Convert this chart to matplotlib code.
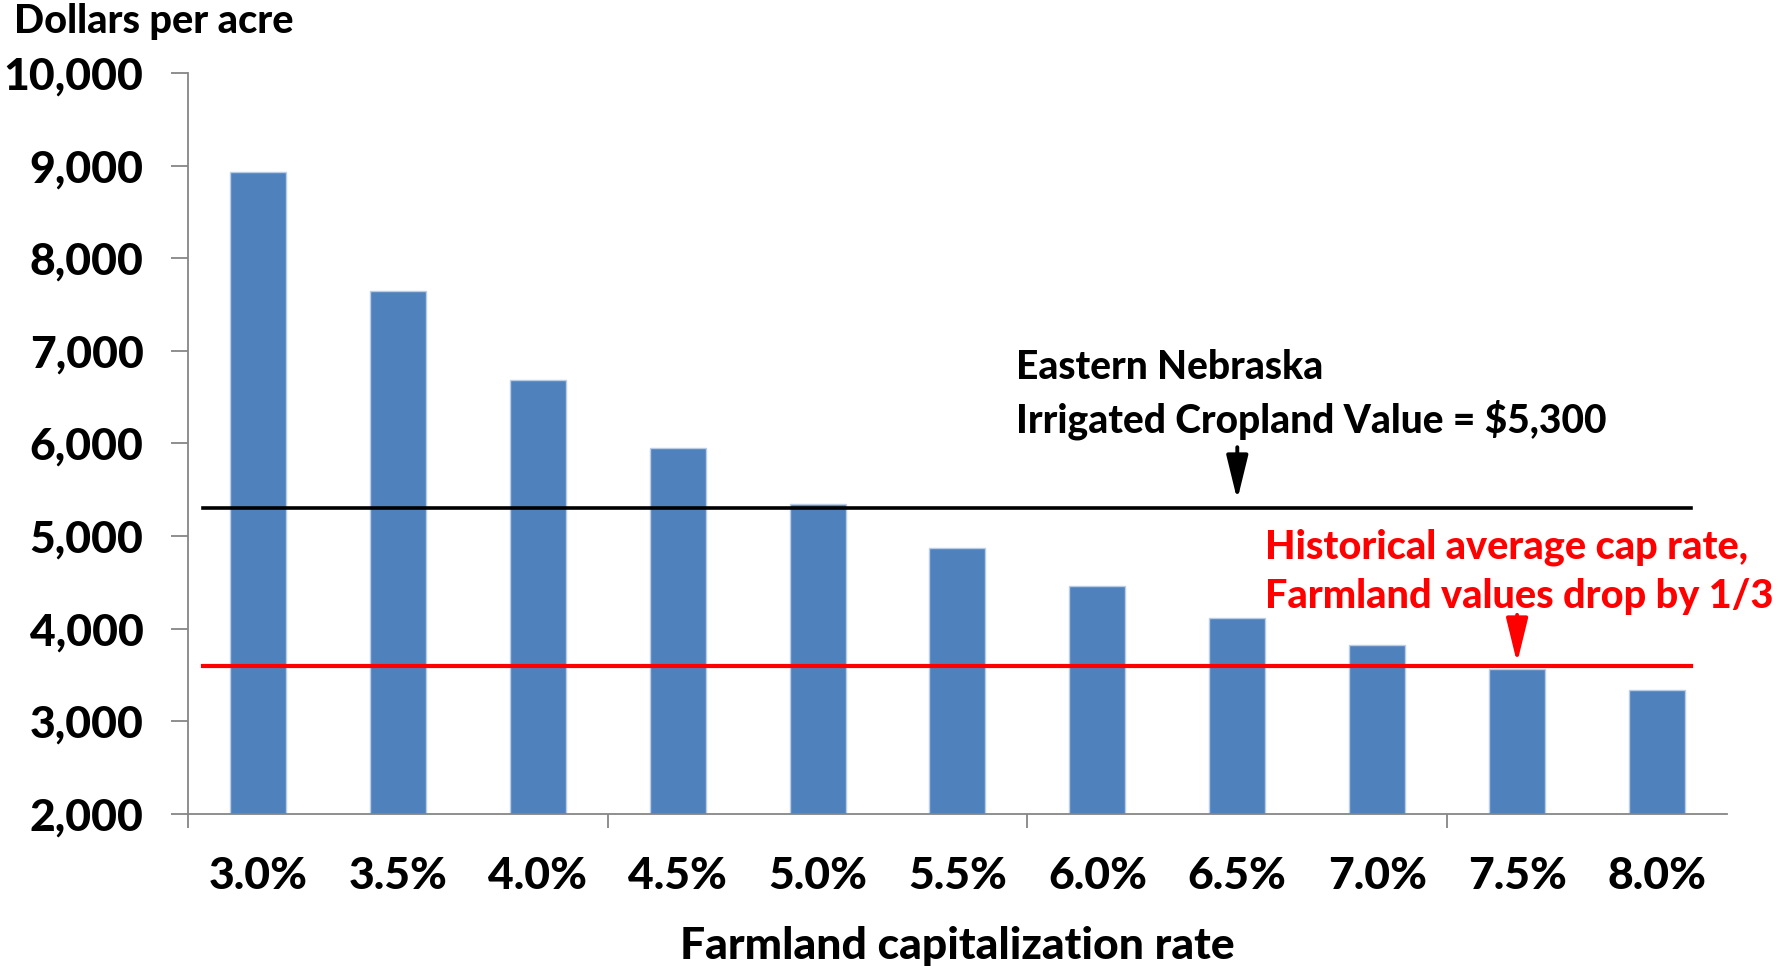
import matplotlib.pyplot as plt
import numpy as np

# Datos
tasas = ['3.0%', '3.5%', '4.0%', '4.5%', '5.0%', '5.5%', '6.0%', '6.5%', '7.0%', '7.5%', '8.0%']
valores = [8930, 7650, 6690, 5950, 5350, 4870, 4460, 4120, 3820, 3570, 3340]
valor_nebraska = 5300
valor_historico = 3600
y_ticks = [2000, 3000, 4000, 5000, 6000, 7000, 8000, 9000, 10000]

plt.rcParams['font.family'] = ['Lato', 'DejaVu Sans']
peso = 'black'

fig = plt.figure(figsize=(17.87, 9.66), dpi=100)
ax = fig.add_axes([0.1052, 0.1574, 0.8612, 0.767])

x = np.arange(len(tasas))
ax.bar(x, valores, width=0.4, color='#4F81BD', edgecolor='#b9cde5', linewidth=1, zorder=2)

ax.set_xlim(-0.5, len(tasas) - 0.5)
ax.set_ylim(2000, 10000)

# Lineas de referencia
ax.plot([-0.39, 10.24], [valor_nebraska] * 2, color='black', lw=2.6, zorder=3)
ax.plot([-0.39, 10.24], [valor_historico] * 2, color='#ff0000', lw=3.0, zorder=3)

# Ejes al estilo Excel
for lado in ['top', 'right']:
    ax.spines[lado].set_visible(False)
for lado in ['left', 'bottom']:
    ax.spines[lado].set_color('#868686')
    ax.spines[lado].set_linewidth(1.3)

ax.set_yticks(y_ticks)
ax.set_yticklabels([f'{v:,}' for v in y_ticks], fontsize=32, fontweight=peso)
ax.tick_params(axis='y', length=12, width=1.3, color='#868686', pad=20)

ax.set_xticks([-0.5, 2.5, 5.5, 8.5])
ax.set_xticklabels([])
ax.set_xticks(x, minor=True)
ax.set_xticklabels(tasas, minor=True, fontsize=32, fontweight=peso)
ax.tick_params(axis='x', which='major', length=10, width=1.3, color='#868686')
ax.tick_params(axis='x', which='minor', length=0, pad=30)

ax.set_xlabel('Farmland capitalization rate', fontsize=32, fontweight=peso, labelpad=22)
fig.text(0.008, 0.978, 'Dollars per acre', fontsize=28.5, fontweight=peso, ha='left', va='center')

# Anotaciones
ax.text(5.42, 6530, 'Eastern Nebraska\nIrrigated Cropland Value = $5,300',
        fontsize=28, fontweight=peso, ha='left', va='center', linespacing=1.4)
ax.annotate('', xy=(7, 5390), xytext=(7, 5960),
            arrowprops=dict(arrowstyle='-|>,head_width=0.22,head_length=0.9', color='black',
                            lw=2.8, mutation_scale=30, shrinkA=0, shrinkB=0))

ax.text(7.20, 4620, 'Historical average cap rate,\nFarmland values drop by 1/3',
        fontsize=28.5, fontweight=peso, ha='left', va='center', color='#ff0000', linespacing=1.4)
ax.annotate('', xy=(9, 3630), xytext=(9, 4150),
            arrowprops=dict(arrowstyle='-|>,head_width=0.22,head_length=0.9', color='#ff0000',
                            lw=2.8, mutation_scale=30, shrinkA=0, shrinkB=0))

fig.savefig('out.png', dpi=100)
